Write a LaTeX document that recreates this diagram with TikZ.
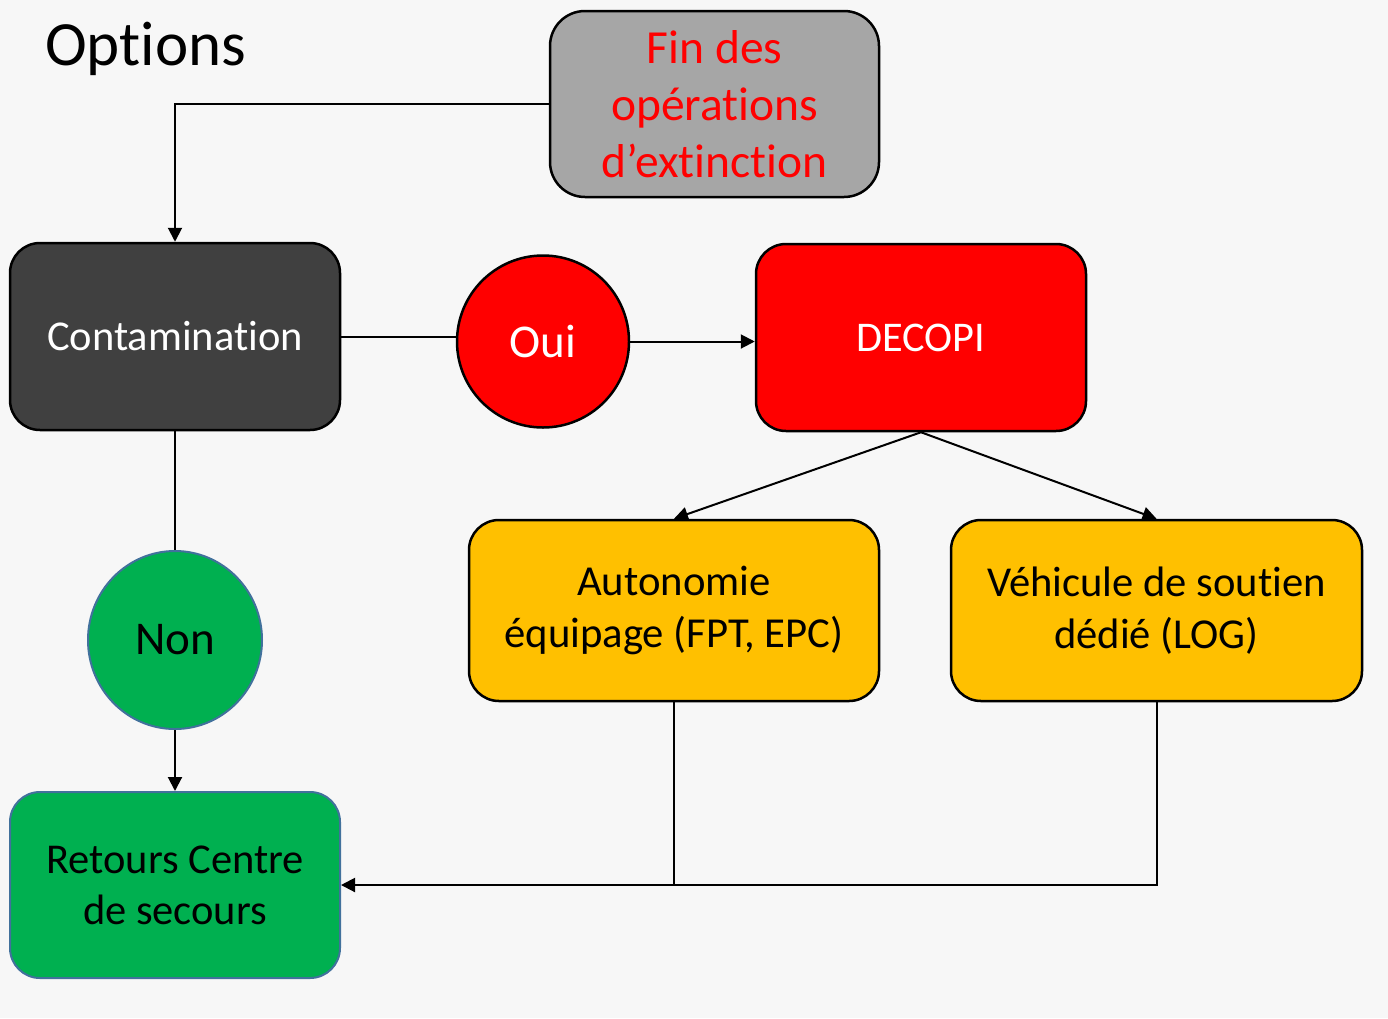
\documentclass[tikz,border=0pt]{standalone}
\usepackage{fontspec}
\setmainfont{Carlito}[RawFeature={-liga}]
\usetikzlibrary{arrows.meta,shapes.geometric}
\definecolor{bg}{RGB}{247,247,247}
\definecolor{grayfill}{RGB}{166,166,166}
\definecolor{darkfill}{RGB}{64,64,64}
\definecolor{redfill}{RGB}{255,0,0}
\definecolor{greenfill}{RGB}{0,176,80}
\definecolor{yellowfill}{RGB}{255,192,0}
\definecolor{blueedge}{RGB}{65,113,156}
\tikzset{
  box/.style={draw=black, line width=2.5pt, rounded corners=30pt, align=center, inner sep=0pt},
  conn/.style={draw=black, line width=2pt},
  arr/.style={conn, -{Triangle[length=14pt,width=14pt]}},
}
\begin{document}
\begin{tikzpicture}[x=1pt,y=-1pt]
\fill[bg] (0,0) rectangle (1388,1018);
\useasboundingbox (0,0) rectangle (1388,1018);

\node[anchor=base west, font=\fontsize{63}{70}\selectfont, inner sep=0pt] (title) at (45,65) {Options};

\node[box, fill=grayfill, text=red, minimum width=329pt, minimum height=186pt,
  rounded corners=35pt, font=\fontsize{47.5}{57}\selectfont] (fin) at (714.5,104)
  {Fin des\\opérations\\d’extinction};

\node[box, fill=darkfill, text=white, minimum width=330pt, minimum height=187pt,
  font=\fontsize{42.5}{50}\selectfont] (cont) at (175,336.5) {Contamination};

\node[circle, draw=black, line width=2.5pt, fill=redfill, text=white, minimum size=172pt,
  inner sep=0pt, font=\fontsize{47}{50}\selectfont] (oui) at (543,341.5) {Oui};

\node[box, fill=redfill, text=white, minimum width=330pt, minimum height=187pt,
  font=\fontsize{42.3}{50}\selectfont] (dec) at (921,337.5) {DECOPI};

\node[ellipse, draw=blueedge, line width=2pt, fill=greenfill, text=black, minimum width=174pt,
  minimum height=178pt, inner sep=0pt, font=\fontsize{47}{50}\selectfont] (non) at (175,640) {Non};

\node[box, draw=blueedge, line width=2pt, fill=greenfill, text=black, minimum width=330pt,
  minimum height=186pt, font=\fontsize{42.5}{51}\selectfont] (ret) at (175,885)
  {Retours Centre\\de secours};

\node[box, fill=yellowfill, text=black, minimum width=410pt, minimum height=181pt,
  font=\fontsize{42.7}{52}\selectfont] (auto) at (674,610.5)
  {Autonomie\\équipage (FPT, EPC)};

\node[box, fill=yellowfill, text=black, minimum width=411pt, minimum height=181pt,
  font=\fontsize{42.6}{52}\selectfont] (veh) at (1156.5,610.5)
  {Véhicule de soutien\\dédié (LOG)};

\draw[arr] (fin.west) -| (cont.north);
\draw[conn] (cont.east) -- (cont.east -| oui.west);
\draw[arr] (oui.east) -- (oui.east -| dec.west);
\draw[arr] (dec.south) -- (auto.north);
\draw[arr] (dec.south) -- (veh.north);
\draw[conn] (cont.south) -- (non.north);
\draw[arr] (non.south) -- (ret.north);
\draw[conn] (veh.south) |- (auto.south |- ret.east);
\draw[arr] (auto.south) |- (ret.east);
\end{tikzpicture}
\end{document}
